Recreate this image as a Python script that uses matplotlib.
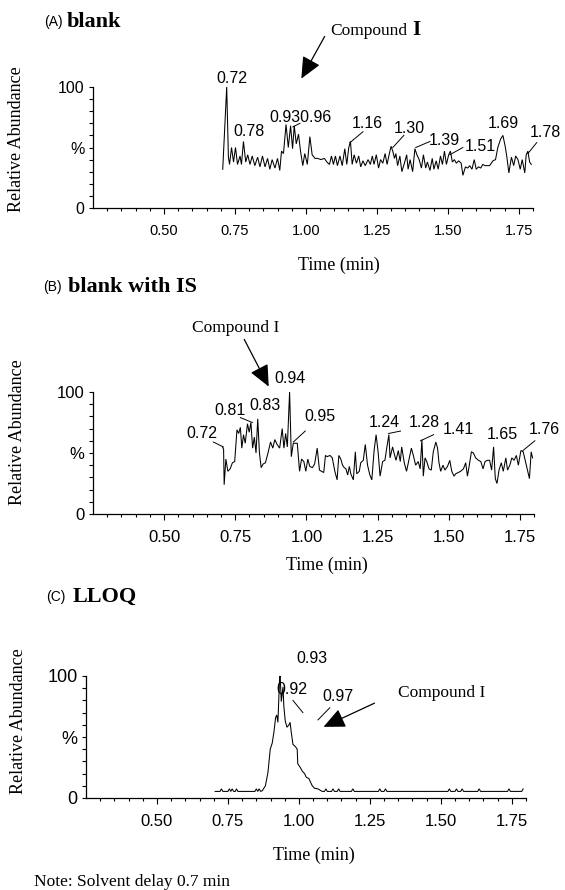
import matplotlib
matplotlib.use('Agg')
import matplotlib.pyplot as plt
import numpy as np
from matplotlib.patches import FancyArrowPatch

# ---------------- data ----------------
x_tick_values = [0.50, 0.75, 1.00, 1.25, 1.50, 1.75]
x_tick_labels = ['0.50', '0.75', '1.00', '1.25', '1.50', '1.75']
y_tick_values = [0, 50, 100]
y_tick_labels = ['0', '%', '100']

a_time = [0.707, 0.721, 0.727, 0.731, 0.738, 0.745, 0.752, 0.759, 0.768, 0.773, 0.780, 0.788, 0.795, 0.803,
          0.811, 0.820, 0.830, 0.838, 0.847, 0.856, 0.865, 0.873, 0.881, 0.891, 0.900, 0.908, 0.914, 0.921,
          0.930, 0.938, 0.946, 0.953, 0.959, 0.966, 0.974, 0.981, 0.989, 0.996, 1.005, 1.014, 1.022, 1.032,
          1.041, 1.053, 1.065, 1.074, 1.083, 1.090, 1.097, 1.104, 1.111, 1.120, 1.128, 1.137, 1.144, 1.151,
          1.157, 1.163, 1.170, 1.178, 1.186, 1.193, 1.201, 1.209, 1.219, 1.227, 1.234, 1.240, 1.248, 1.256,
          1.263, 1.271, 1.279, 1.286, 1.294, 1.300, 1.306, 1.312, 1.317, 1.323, 1.331, 1.338, 1.347, 1.355,
          1.360, 1.367, 1.376, 1.384, 1.391, 1.399, 1.407, 1.414, 1.422, 1.428, 1.437, 1.445, 1.451, 1.459,
          1.466, 1.474, 1.481, 1.488, 1.495, 1.503, 1.509, 1.516, 1.523, 1.530, 1.538, 1.547, 1.553, 1.562,
          1.570, 1.577, 1.585, 1.593, 1.600, 1.608, 1.616, 1.623, 1.631, 1.639, 1.647, 1.659, 1.668, 1.676,
          1.686, 1.694, 1.702, 1.708, 1.715, 1.724, 1.732, 1.739, 1.747, 1.755, 1.762, 1.771, 1.776, 1.782,
          1.788, 1.794]
a_abund = [32, 100, 42, 36, 50, 38, 50, 36, 43, 36, 55, 38, 44, 36,
           43, 35, 42, 34, 43, 34, 41, 32, 40, 33, 41, 31, 47, 45,
           69, 50, 68, 49, 68, 53, 61, 47, 35, 45, 36, 59, 44, 41,
           41, 40, 41, 38, 36, 43, 36, 43, 35, 43, 35, 49, 36, 50,
           55, 36, 44, 37, 43, 34, 39, 35, 40, 36, 43, 36, 44, 33,
           40, 37, 45, 36, 45, 51, 47, 41, 45, 35, 43, 30, 37, 44,
           32, 40, 30, 49, 44, 40, 33, 44, 33, 38, 31, 41, 32, 39,
           32, 43, 36, 47, 36, 44, 47, 38, 40, 37, 39, 37, 27, 34,
           33, 35, 32, 40, 32, 34, 33, 36, 35, 35, 35, 39, 40, 50,
           57, 60, 51, 42, 29, 42, 35, 43, 40, 32, 40, 29, 44, 47,
           38, 36]

b_time = [0.705, 0.709, 0.711, 0.717, 0.724, 0.732, 0.740, 0.748, 0.756, 0.762, 0.768, 0.773, 0.779, 0.785,
          0.793, 0.799, 0.805, 0.811, 0.817, 0.823, 0.829, 0.835, 0.841, 0.848, 0.856, 0.864, 0.874, 0.882,
          0.889, 0.897, 0.906, 0.915, 0.921, 0.927, 0.933, 0.941, 0.947, 0.954, 0.961, 0.968, 0.976, 0.983,
          0.991, 0.998, 1.005, 1.012, 1.021, 1.029, 1.038, 1.046, 1.053, 1.061, 1.067, 1.073, 1.083, 1.091,
          1.100, 1.108, 1.114, 1.121, 1.127, 1.133, 1.139, 1.145, 1.151, 1.156, 1.165, 1.172, 1.177, 1.186,
          1.191, 1.200, 1.207, 1.215, 1.223, 1.230, 1.238, 1.245, 1.252, 1.259, 1.268, 1.276, 1.283, 1.290,
          1.294, 1.303, 1.308, 1.315, 1.323, 1.330, 1.335, 1.344, 1.352, 1.360, 1.369, 1.376, 1.384, 1.393,
          1.400, 1.406, 1.411, 1.417, 1.423, 1.431, 1.439, 1.446, 1.455, 1.461, 1.466, 1.472, 1.480, 1.487,
          1.496, 1.504, 1.511, 1.519, 1.525, 1.534, 1.542, 1.552, 1.560, 1.566, 1.572, 1.580, 1.587, 1.595,
          1.605, 1.613, 1.621, 1.628, 1.636, 1.644, 1.651, 1.658, 1.664, 1.670, 1.677, 1.685, 1.692, 1.701,
          1.707, 1.715, 1.722, 1.730, 1.738, 1.745, 1.754, 1.762, 1.771, 1.784, 1.790, 1.795]
b_abund = [55, 53, 24, 45, 35, 37, 42, 43, 69, 66, 71, 54, 65, 58,
           74, 67, 75, 54, 63, 50, 78, 50, 38, 41, 42, 49, 59, 54,
           61, 57, 54, 70, 54, 66, 55, 100, 47, 58, 58, 58, 35, 45,
           43, 35, 45, 39, 38, 41, 54, 36, 35, 34, 48, 47, 48, 46,
           35, 28, 48, 45, 40, 38, 37, 32, 39, 33, 28, 51, 33, 35,
           42, 44, 57, 40, 32, 28, 52, 65, 51, 31, 43, 44, 55, 65,
           46, 55, 50, 44, 52, 43, 55, 42, 35, 44, 54, 48, 40, 43,
           37, 61, 31, 46, 43, 37, 36, 51, 59, 54, 42, 35, 40, 36,
           39, 44, 35, 31, 33, 34, 35, 37, 42, 31, 39, 51, 50, 46,
           44, 43, 37, 43, 44, 44, 36, 55, 29, 25, 36, 42, 35, 46,
           36, 40, 46, 44, 48, 40, 52, 51, 42, 29, 51, 46]

c_time = [0.705, 0.722, 0.727, 0.732, 0.750, 0.755, 0.760, 0.765, 0.770, 0.776, 0.780, 0.785, 0.845, 0.850,
          0.855, 0.860, 0.865, 0.871, 0.882, 0.891, 0.899, 0.906, 0.912, 0.918, 0.922, 0.926, 0.929, 0.932,
          0.934, 0.938, 0.944, 0.947, 0.952, 0.958, 0.965, 0.969, 0.973, 0.979, 0.988, 0.994, 0.996, 1.005,
          1.012, 1.020, 1.026, 1.035, 1.041, 1.047, 1.055, 1.067, 1.082, 1.090, 1.095, 1.100, 1.115, 1.120,
          1.125, 1.135, 1.140, 1.145, 1.185, 1.190, 1.195, 1.280, 1.285, 1.290, 1.300, 1.305, 1.310, 1.525,
          1.530, 1.535, 1.550, 1.555, 1.560, 1.570, 1.575, 1.580, 1.630, 1.635, 1.640, 1.735, 1.740, 1.745,
          1.785, 1.790]
c_abund = [5.4, 5.4, 7.5, 5.4, 5.4, 7.5, 5.4, 7.5, 5.4, 5.4, 7.5, 5.4, 5.4, 7.5,
           5.4, 7.5, 5.4, 6, 10, 21, 40, 45, 54, 66, 68, 62, 80, 99,
           100, 79, 91, 75, 63, 58, 60, 62, 54, 44, 42, 40, 28, 25,
           22, 20, 17, 16, 13, 10, 8, 7.5, 5.4, 5.4, 7.5, 5.4, 5.4, 7.5,
           5.4, 5.4, 7.5, 5.4, 5.4, 7.5, 5.4, 5.4, 7.5, 5.4, 5.4, 7.5, 5.4, 5.4,
           7.5, 5.4, 5.4, 7.5, 5.4, 5.4, 7.5, 5.4, 5.4, 7.5, 5.4, 5.4, 7.5, 5.4,
           5.4, 7.5]

# peak labels: text, time position, abundance position
a_peak_text = ['0.72', '0.78', '0.930.96', '1.16', '1.30', '1.39', '1.51', '1.69', '1.78']
a_peak_t = [0.739, 0.800, 0.982, 1.218, 1.363, 1.489, 1.613, 1.694, 1.842]
a_peak_v = [107, 63, 75, 70, 66, 56, 51, 70, 62]
b_peak_text = ['0.94', '0.81', '0.83', '0.95', '0.72', '1.24', '1.28', '1.41', '1.65', '1.76']
b_peak_t = [0.944, 0.732, 0.856, 1.046, 0.634, 1.275, 1.416, 1.535, 1.690, 1.835]
b_peak_v = [111, 85, 89, 80, 66, 75, 75, 69, 65, 69]
c_peak_text = ['0.93', '0.92', '0.97']
c_peak_t = [1.046, 0.975, 1.137]
c_peak_v = [114, 89, 83]

# ---------------- figure ----------------
W, H = 565, 890
fig = plt.figure(figsize=(W / 100, H / 100), dpi=100)
SERIF = 'Liberation Serif'
SANS = 'Liberation Sans'


def fp(x, y):
    return (x / W, 1 - y / H)


def make_axes(left, right, top, bottom, xfs, yfs):
    ax = fig.add_axes([left / W, 1 - bottom / H, (right - left) / W, (bottom - top) / H])
    ax.set_xlim(0.25, 1.80)
    ax.set_ylim(0, 100)
    for s in ['top', 'right']:
        ax.spines[s].set_visible(False)
    for s in ['left', 'bottom']:
        ax.spines[s].set_linewidth(0.9)
    ax.set_xticks(x_tick_values)
    ax.set_xticklabels(x_tick_labels, family=SANS, fontsize=xfs)
    ax.set_xticks(np.arange(0.30, 1.8001, 0.05), minor=True)
    ax.set_yticks(y_tick_values)
    ax.set_yticklabels(y_tick_labels, family=SANS, fontsize=yfs)
    ax.set_yticks(np.arange(10, 100, 10), minor=True)
    ax.tick_params(axis='x', which='major', direction='out', length=4.5, width=0.8, pad=7)
    ax.tick_params(axis='x', which='minor', direction='out', length=2.5, width=0.8)
    ax.tick_params(axis='y', which='both', direction='out', length=3, width=0.8, pad=3)
    ax.patch.set_alpha(0)
    return ax


def trace(ax, t, v):
    ax.plot(t, v, color='black', lw=0.75, clip_on=False, solid_joinstyle='miter')


def peak_labels(ax, texts, ts, vs, fs=11.5):
    for s, t, v in zip(texts, ts, vs):
        ax.text(t, v, s, ha='center', va='center', family=SANS, fontsize=fs, clip_on=False)


def leader(ax, t0, v0, t1, v1):
    ax.plot([t0, t1], [v0, v1], color='black', lw=0.7, clip_on=False)


def arrow(p0, p1):
    fig.add_artist(FancyArrowPatch(fp(*p0), fp(*p1), transform=fig.transFigure,
                                   arrowstyle='-|>,head_length=1.1,head_width=0.5',
                                   mutation_scale=12, color='black', lw=0.9))


# ---- Panel A ----
axA = make_axes(93, 533, 87, 208, 10.5, 11.5)
trace(axA, a_time, a_abund)
peak_labels(axA, a_peak_text, a_peak_t, a_peak_v)
leader(axA, 0.954, 67, 0.979, 70)
leader(axA, 1.155, 54, 1.201, 63)
leader(axA, 1.306, 50, 1.345, 60)
leader(axA, 1.387, 50, 1.437, 55)
leader(axA, 1.507, 44, 1.553, 50)
leader(axA, 1.782, 45, 1.813, 54)
fig.text(*fp(44, 22), '(A)', family=SANS, fontsize=10, va='center', ha='left')
fig.text(*fp(67, 22), 'blank', family=SERIF, fontsize=16, fontweight='bold', va='center', ha='left')
fig.text(*fp(330, 31), 'Compound', family=SERIF, fontsize=12.5, va='center', ha='left')
fig.text(*fp(412, 30), 'I', family=SERIF, fontsize=15, fontweight='bold', va='center', ha='left')
arrow((326, 34), (300, 81))
fig.text(*fp(17, 139), 'Relative Abundance', family=SERIF, fontsize=13, rotation=90, va='center', ha='center')
fig.text(*fp(339, 265), 'Time (min)', family=SERIF, fontsize=13, va='center', ha='center')

# ---- Panel B ----
axB = make_axes(93, 534, 392, 514, 12, 12)
trace(axB, b_time, b_abund)
peak_labels(axB, b_peak_text, b_peak_t, b_peak_v)
leader(axB, 0.673, 59, 0.708, 55)
leader(axB, 0.768, 79, 0.810, 75)
leader(axB, 0.954, 59, 0.996, 68)
leader(axB, 1.289, 66, 1.331, 68)
leader(axB, 1.401, 60, 1.447, 65)
leader(axB, 1.761, 52, 1.803, 60)
fig.text(*fp(43, 287), '(B)', family=SANS, fontsize=10, va='center', ha='left')
fig.text(*fp(68, 287), 'blank with IS', family=SERIF, fontsize=16, fontweight='bold', va='center', ha='left')
fig.text(*fp(236, 328), 'Compound I', family=SERIF, fontsize=12.5, va='center', ha='center')
arrow((243, 337), (270, 389))
fig.text(*fp(18, 432), 'Relative Abundance', family=SERIF, fontsize=13, rotation=90, va='center', ha='center')
fig.text(*fp(327, 565), 'Time (min)', family=SERIF, fontsize=13, va='center', ha='center')

# ---- Panel C ----
axC = make_axes(86, 526, 676, 798, 12, 13)
trace(axC, c_time, c_abund)
peak_labels(axC, c_peak_text, c_peak_t, c_peak_v)
leader(axC, 0.979, 80, 1.014, 70)
leader(axC, 1.109, 74, 1.067, 64)
fig.text(*fp(46, 597), '(C)', family=SANS, fontsize=10, va='center', ha='left')
fig.text(*fp(73, 597), 'LLOQ', family=SERIF, fontsize=16, fontweight='bold', va='center', ha='left')
fig.text(*fp(442, 693), 'Compound I', family=SERIF, fontsize=12.5, va='center', ha='center')
arrow((377, 702), (321, 728))
fig.text(*fp(19, 721), 'Relative Abundance', family=SERIF, fontsize=13, rotation=90, va='center', ha='center')
fig.text(*fp(314, 855), 'Time (min)', family=SERIF, fontsize=13, va='center', ha='center')
fig.text(*fp(34, 882), 'Note: Solvent delay 0.7 min', family=SERIF, fontsize=12.5, va='center', ha='left')

fig.savefig('out.png', dpi=100)
